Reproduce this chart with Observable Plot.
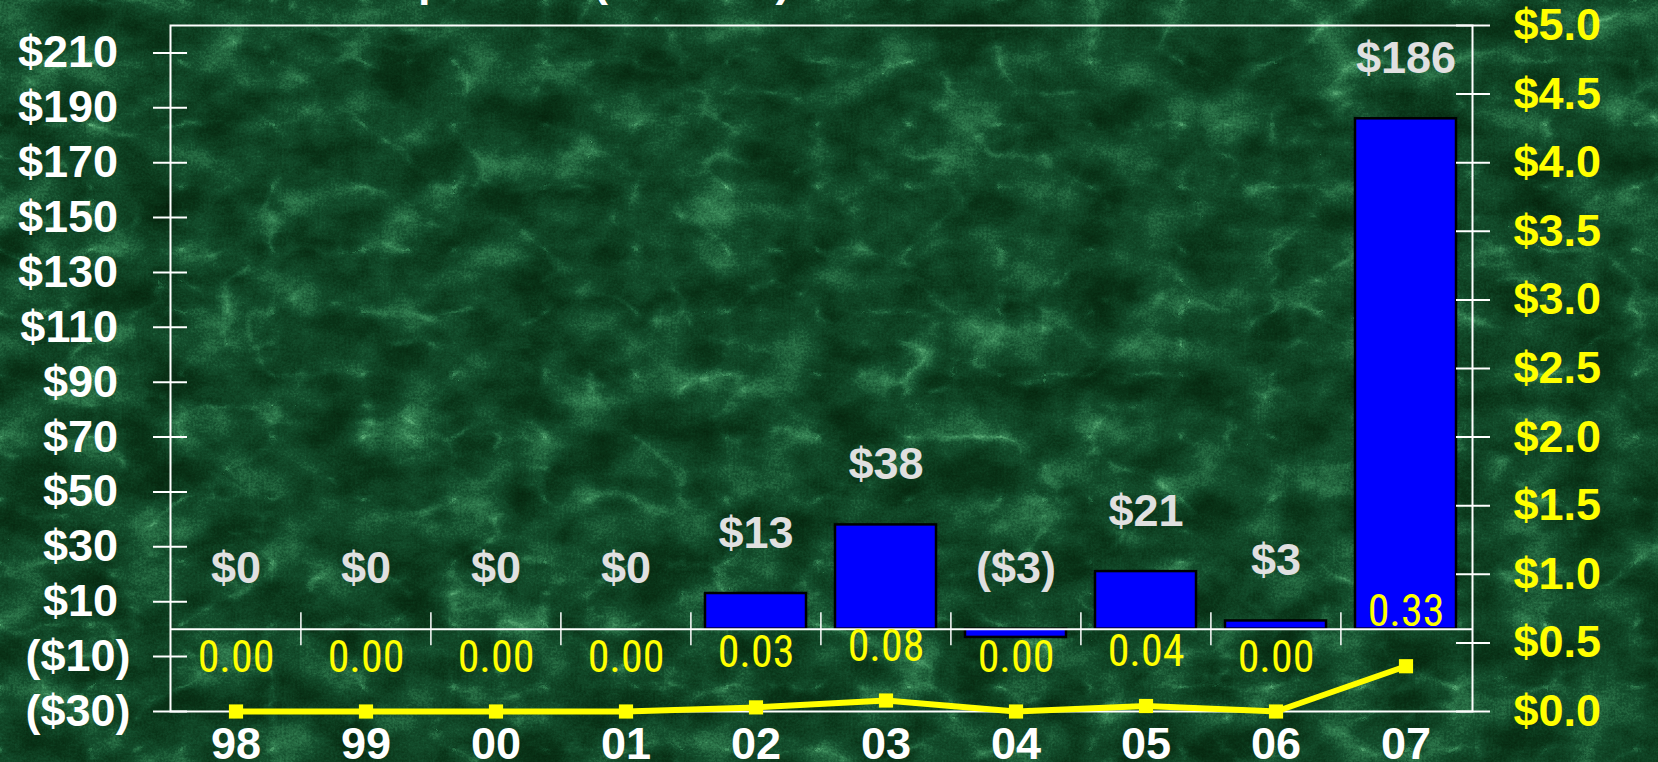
<!DOCTYPE html>
<html>
<head>
<meta charset="utf-8">
<script src="https://cdn.jsdelivr.net/npm/d3@7"></script>
<script src="https://cdn.jsdelivr.net/npm/@observablehq/plot@0.6"></script>
<style>
html, body { margin: 0; padding: 0; background: #1b4d2c; overflow: hidden; }
#wrap { position: relative; width: 1658px; height: 762px; overflow: hidden; }
#bg { position: absolute; left: 0; top: 0; }
#title { position: absolute; left: 63px; top: -42px; font: bold 45px "Liberation Sans", Arial, sans-serif; color: #ffffff; white-space: nowrap; line-height: 1; }
#chart { position: absolute; left: 0; top: 0; }
</style>
</head>
<body>
<div id="wrap">
  <svg id="bg" width="1658" height="762" xmlns="http://www.w3.org/2000/svg">
    <filter id="marble" x="0" y="0" width="100%" height="100%" color-interpolation-filters="sRGB">
      <feTurbulence type="fractalNoise" baseFrequency="0.016 0.022" numOctaves="4" seed="11" result="n1"/>
      <feColorMatrix in="n1" type="matrix" values="1 0 0 0 0  1 0 0 0 0  1 0 0 0 0  0 0 0 0 1" result="g1"/>
      <feTurbulence type="turbulence" baseFrequency="0.011 0.016" numOctaves="3" seed="5" result="n2"/>
      <feColorMatrix in="n2" type="matrix" values="1 0 0 0 0  1 0 0 0 0  1 0 0 0 0  0 0 0 0 1" result="g2"/>
      <feComponentTransfer in="g2" result="v">
        <feFuncR type="table" tableValues="1 0.35 0.05 0 0 0 0 0 0 0 0"/>
        <feFuncG type="table" tableValues="1 0.35 0.05 0 0 0 0 0 0 0 0"/>
        <feFuncB type="table" tableValues="1 0.35 0.05 0 0 0 0 0 0 0 0"/>
      </feComponentTransfer>
      <feTurbulence type="fractalNoise" baseFrequency="0.45" numOctaves="2" seed="3" result="n3"/>
      <feColorMatrix in="n3" type="matrix" values="0 1 0 0 0  0 1 0 0 0  0 1 0 0 0  0 0 0 0 1" result="g3"/>
      <feComposite in="g1" in2="v" operator="arithmetic" k1="0" k2="0.85" k3="0.28" k4="0" result="m1"/>
      <feComposite in="m1" in2="g3" operator="arithmetic" k1="0" k2="1" k3="0.3" k4="-0.17" result="mix"/>
      <feComponentTransfer in="mix">
        <feFuncR type="table" tableValues="0.02 0.04 0.08 0.20 0.42"/>
        <feFuncG type="table" tableValues="0.14 0.21 0.31 0.50 0.74"/>
        <feFuncB type="table" tableValues="0.05 0.10 0.18 0.32 0.52"/>
      </feComponentTransfer>
    </filter>
    <rect width="1658" height="762" filter="url(#marble)"/>
  </svg>
  <div id="title">Net Income Comparison (Millions)</div>
  <div id="chart"></div>
</div>
<script>
// ---- data ----
const years = ["98", "99", "00", "01", "02", "03", "04", "05", "06", "07"];
const netIncome = [0, 0, 0, 0, 13, 38, -3, 21, 3, 186];       // $ millions (left axis)
const eps = [0.00, 0.00, 0.00, 0.00, 0.03, 0.08, 0.00, 0.04, 0.00, 0.33]; // $ per share (right axis)
const leftTicks = [-30, -10, 10, 30, 50, 70, 90, 110, 130, 150, 170, 190, 210];
const rightTicks = [0, 0.5, 1, 1.5, 2, 2.5, 3, 3.5, 4, 4.5, 5];
const leftDomain = [-30, 220];
const rightDomain = [0, 5];

// map right-axis values onto the left scale
const toLeft = v => leftDomain[0] + (v - rightDomain[0]) * (leftDomain[1] - leftDomain[0]) / (rightDomain[1] - rightDomain[0]);
const fromLeft = d => rightDomain[0] + (d - leftDomain[0]) * (rightDomain[1] - rightDomain[0]) / (leftDomain[1] - leftDomain[0]);

const rows = years.map((year, i) => ({year, ni: netIncome[i], eps: eps[i]}));

const money = d => d < 0 ? `($${-d})` : `$${d}`;
const leftFmt = d => d < 0 ? `($${-d})` : `$${d}\u00a0`;
const rightFmt = d => `$${fromLeft(d).toFixed(1)}`;

const font = "'Liberation Sans', Arial, Helvetica, sans-serif";
const narrow = "'Liberation Sans Narrow', 'Arial Narrow', 'Roboto Condensed', 'DejaVu Sans Condensed', 'Liberation Sans', sans-serif";

const chart = Plot.plot({
  width: 1658,
  height: 762,
  marginLeft: 170,
  marginRight: 186,
  marginTop: 25,
  marginBottom: 51,
  style: {background: "transparent", fontFamily: font, overflow: "visible"},
  x: {domain: years, paddingInner: 0.22, paddingOuter: 0.11, label: null},
  y: {domain: leftDomain, label: null},
  marks: [
    Plot.frame({stroke: "#ffffff", strokeWidth: 2}),
    Plot.barY(rows, {x: "year", y: "ni", fill: "#0000ff", stroke: "#000000", strokeWidth: 2.5}),
    Plot.ruleY([0], {stroke: "#ffffff", strokeWidth: 2}),
    Plot.ruleX(years.slice(1), {x: d => d, y1: -6, y2: 6, dx: -65.1, stroke: "#ffffff", strokeWidth: 1.5}),
    Plot.axisY({anchor: "left", ticks: leftTicks, tickSize: 34, dx: 17, tickPadding: 23, tickFormat: leftFmt,
      stroke: "#ffffff", strokeWidth: 2, fill: "#ffffff", fontSize: 45, fontWeight: "bold", label: null}),
    Plot.axisY({anchor: "right", ticks: rightTicks.map(toLeft), tickSize: 34, dx: -17, tickPadding: 24, tickFormat: rightFmt,
      stroke: "#ffffff", strokeWidth: 2, fill: "#ffff00", fontSize: 45, fontWeight: "bold", label: null}),
    Plot.axisX({anchor: "bottom", tickSize: 0, tickPadding: 16, fill: "#ffffff", fontSize: 45, fontWeight: "bold", label: null}),
    Plot.text(rows, {x: "year", y: d => Math.max(d.ni, 0), text: d => money(d.ni), dy: -46, lineAnchor: "bottom",
      fill: "#e0e0e0", fontSize: 45, fontWeight: "bold"}),
    Plot.line(rows, {x: "year", y: d => toLeft(d.eps), stroke: "#ffff00", strokeWidth: 6}),
    Plot.dot(rows, {x: "year", y: d => toLeft(d.eps), symbol: "square", r: 8, fill: "#ffff00", stroke: null}),
    Plot.text(rows, {x: "year", y: d => toLeft(d.eps), text: d => d.eps.toFixed(2), dy: -54,
      fill: "#ffff00", fontSize: 44, fontWeight: "normal", fontFamily: narrow})
  ]
});
document.getElementById("chart").appendChild(chart);
</script>
</body>
</html>
